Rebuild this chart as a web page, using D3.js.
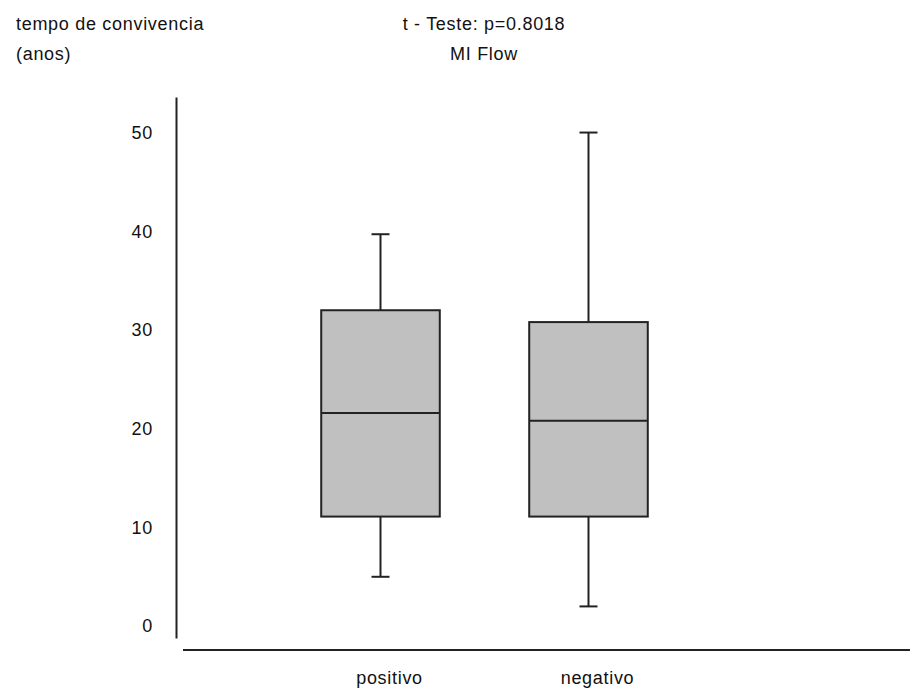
<!DOCTYPE html>
<html>
<head>
<meta charset="utf-8">
<script src="https://cdn.jsdelivr.net/npm/d3@7"></script>
<style>
  body { margin: 0; background: #fff; }
  text { font-family: "Liberation Sans", Arial, sans-serif; font-size: 18px; letter-spacing: 0.7px; fill: #111; }
</style>
</head>
<body>
<div id="chart"></div>
<script>
	// box plot values
	var categories = ["positivo", "negativo"];
	var lowWhisker = [5, 2];
	var q1 = [11.1, 11.1];
	var median = [21.6, 20.8];
	var q3 = [32, 30.8];
	var highWhisker = [39.7, 50];
	var yTicks = [0, 10, 20, 30, 40, 50];

	var width = 910, height = 693;

	var svg = d3.select("#chart").append("svg")
		.attr("width", width).attr("height", height);

	var y = d3.scaleLinear().domain([-1.2, 53.6]).range([638, 97]);
	var x = d3.scaleBand().domain(categories).range([276.5, 692.5]);
	var boxW = x.bandwidth() * 0.57;
	var capW = 18;

	// titles
	svg.append("text").attr("x", 16).attr("y", 30).text("tempo de convivencia");
	svg.append("text").attr("x", 16).attr("y", 60).text("(anos)");
	svg.append("text").attr("x", 484).attr("y", 30).attr("text-anchor", "middle").text("t - Teste: p=0.8018");
	svg.append("text").attr("x", 484).attr("y", 60).attr("text-anchor", "middle").text("MI Flow");

	// y axis
	var yAxis = svg.append("g")
		.attr("transform", "translate(176,0)")
		.call(d3.axisLeft(y).tickValues(yTicks).tickSize(0).tickPadding(23));
	yAxis.select(".domain").attr("stroke", "#222").attr("stroke-width", 2);
	yAxis.selectAll("text").attr("font-size", null).attr("font-family", null).attr("fill", null);

	// x axis
	svg.append("line")
		.attr("x1", 183).attr("x2", 910).attr("y1", 650).attr("y2", 650)
		.attr("stroke", "#222").attr("stroke-width", 2);
	var xAxis = svg.append("g")
		.attr("transform", "translate(9,650)")
		.call(d3.axisBottom(x).tickSize(0).tickPadding(21));
	xAxis.select(".domain").remove();
	xAxis.selectAll("text").attr("font-size", null).attr("font-family", null).attr("fill", null);

	var boxes = svg.append("g").selectAll("g")
		.data(categories)
		.join("g")
		.attr("transform", d => `translate(${x(d) + x.bandwidth() / 2},0)`);

	// whiskers
	boxes.append("line")
		.attr("x1", 0).attr("x2", 0)
		.attr("y1", (d, i) => y(highWhisker[i]))
		.attr("y2", (d, i) => y(lowWhisker[i]))
		.attr("stroke", "#222").attr("stroke-width", 2);
	boxes.append("line")
		.attr("x1", -capW / 2).attr("x2", capW / 2)
		.attr("y1", (d, i) => y(highWhisker[i])).attr("y2", (d, i) => y(highWhisker[i]))
		.attr("stroke", "#222").attr("stroke-width", 2);
	boxes.append("line")
		.attr("x1", -capW / 2).attr("x2", capW / 2)
		.attr("y1", (d, i) => y(lowWhisker[i])).attr("y2", (d, i) => y(lowWhisker[i]))
		.attr("stroke", "#222").attr("stroke-width", 2);

	// box
	boxes.append("rect")
		.attr("x", -boxW / 2)
		.attr("width", boxW)
		.attr("y", (d, i) => y(q3[i]))
		.attr("height", (d, i) => y(q1[i]) - y(q3[i]))
		.attr("fill", "#c0c0c0")
		.attr("stroke", "#222").attr("stroke-width", 2);

	// median
	boxes.append("line")
		.attr("x1", -boxW / 2).attr("x2", boxW / 2)
		.attr("y1", (d, i) => y(median[i])).attr("y2", (d, i) => y(median[i]))
		.attr("stroke", "#222").attr("stroke-width", 2);
</script>
</body>
</html>
